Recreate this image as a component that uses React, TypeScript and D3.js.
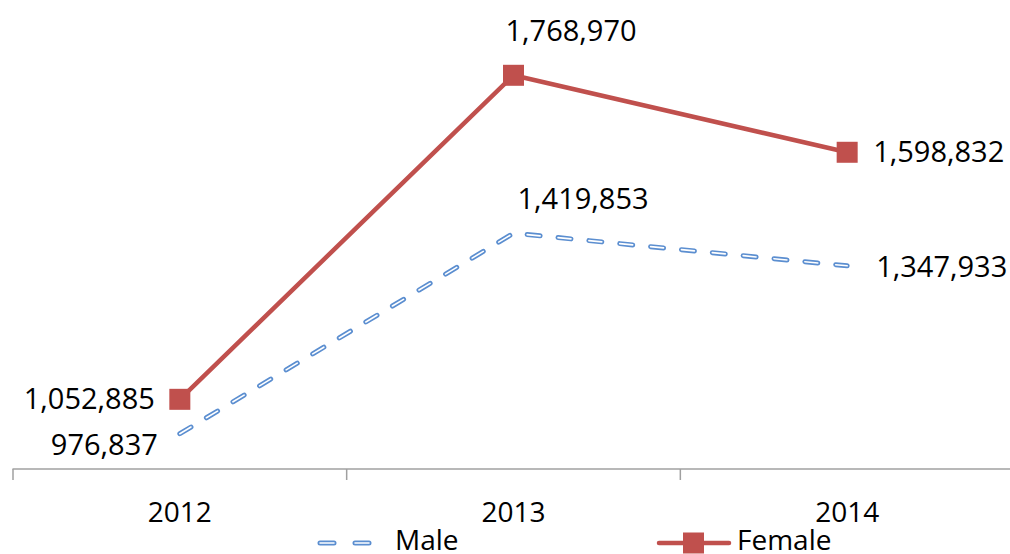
import React from "react";
import * as d3 from "d3";

const years = ["2012", "2013", "2014"];
const maleValues = [976837, 1419853, 1347933];
const femaleValues = [1052885, 1768970, 1598832];
const yDomain = [900000, 1900000];

// label placement offsets (styles, not data)
const femaleLabelPos = [
  { dx: -25, dy: 10, anchor: "end" },
  { dx: -8, dy: -34, anchor: "start" },
  { dx: 26, dy: 10, anchor: "start" },
];
const maleLabelPos = [
  { dx: -22, dy: 21, anchor: "end" },
  { dx: 4, dy: -24, anchor: "start" },
  { dx: 29, dy: 11, anchor: "start" },
];

const W = 1010;
const H = 554;
const FONT = "'Open Sans', 'Noto Sans', sans-serif";
const RED = "#C0504D";
const BLUE = "#5B8ED0";

export default function App() {
  const x = d3.scaleBand<string>().domain(years).range([13, 1014]);
  const y = d3.scaleLinear().domain(yDomain).range([468.5, 16]);
  const cx = (yr: string) => (x(yr) as number) + x.bandwidth() / 2;
  const fmt = d3.format(",");

  const line = d3
    .line<number>()
    .x((_, i) => cx(years[i]))
    .y((v) => y(v));

  const axisY = 469;
  const tickXs = [...years.map((yr) => x(yr) as number), 1014];

  return (
    <svg
      width={W}
      height={H}
      style={{ position: "absolute", left: 0, top: 0, background: "#fff" }}
    >
      {/* axis */}
      <line x1={12.5} x2={W} y1={axisY} y2={axisY} stroke="#A0A0A0" strokeWidth={1.5} />
      {tickXs.map((tx, i) => (
        <line key={i} x1={tx} x2={tx} y1={axisY} y2={480} stroke="#A0A0A0" strokeWidth={1.5} />
      ))}
      {years.map((yr) => (
        <text
          key={yr}
          x={cx(yr)}
          y={522}
          textAnchor="middle"
          fontFamily={FONT}
          fontSize={28}
          fill="#000"
        >
          {yr}
        </text>
      ))}

      {/* male: outlined dashes */}
      <path
        d={line(maleValues) || ""}
        fill="none"
        stroke={BLUE}
        strokeWidth={5}
        strokeDasharray="13 18"
        strokeLinecap="round"
      />
      <path
        d={line(maleValues) || ""}
        fill="none"
        stroke="#fff"
        strokeWidth={1.6}
        strokeDasharray="13 18"
        strokeLinecap="round"
      />

      {/* female */}
      <path
        d={line(femaleValues) || ""}
        fill="none"
        stroke={RED}
        strokeWidth={4.5}
        strokeLinejoin="round"
      />
      {femaleValues.map((v, i) => (
        <rect
          key={i}
          x={cx(years[i]) - 10.5}
          y={y(v) - 10.5}
          width={21}
          height={21}
          fill={RED}
        />
      ))}

      {/* labels */}
      {femaleValues.map((v, i) => (
        <text
          key={"f" + i}
          x={cx(years[i]) + femaleLabelPos[i].dx}
          y={y(v) + femaleLabelPos[i].dy}
          textAnchor={femaleLabelPos[i].anchor as any}
          fontFamily={FONT}
          fontSize={29}
          fill="#000"
        >
          {fmt(v)}
        </text>
      ))}
      {maleValues.map((v, i) => (
        <text
          key={"m" + i}
          x={cx(years[i]) + maleLabelPos[i].dx}
          y={y(v) + maleLabelPos[i].dy}
          textAnchor={maleLabelPos[i].anchor as any}
          fontFamily={FONT}
          fontSize={29}
          fill="#000"
        >
          {fmt(v)}
        </text>
      ))}

      {/* legend */}
      <g>
        <line x1={320} x2={371} y1={543} y2={543} stroke={BLUE} strokeWidth={5} strokeDasharray="14 21" strokeLinecap="round" />
        <line x1={320} x2={371} y1={543} y2={543} stroke="#fff" strokeWidth={1.6} strokeDasharray="14 21" strokeLinecap="round" />
        <text x={395} y={550} fontFamily={FONT} fontSize={28} fill="#000">
          Male
        </text>
        <line x1={659} x2={729} y1={543} y2={543} stroke={RED} strokeWidth={4.5} strokeLinecap="round" />
        <rect x={683} y={532.5} width={21} height={21} fill={RED} />
        <text x={737} y={550} fontFamily={FONT} fontSize={28} fill="#000">
          Female
        </text>
      </g>
    </svg>
  );
}
